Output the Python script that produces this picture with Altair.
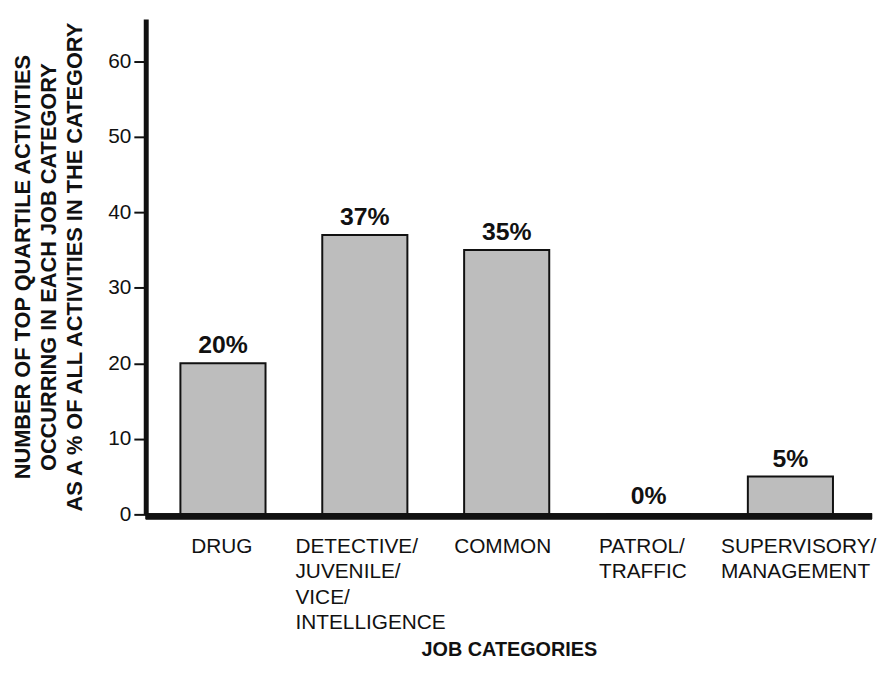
import altair as alt
import pandas as pd

# ---- data ----
cat_keys = ["Drug", "Detective", "Common", "Patrol", "Supervisory"]
cat_lines = [
    ["DRUG"],
    ["DETECTIVE/", "JUVENILE/", "VICE/", "INTELLIGENCE"],
    ["COMMON"],
    ["PATROL/", "TRAFFIC"],
    ["SUPERVISORY/", "MANAGEMENT"],
]
values = [20, 37, 35, 0, 5]
value_labels = ["20%", "37%", "35%", "0%", "5%"]
y_ticks = [0, 10, 20, 30, 40, 50, 60]
y_title = [
    "NUMBER OF TOP QUARTILE ACTIVITIES",
    "OCCURRING IN EACH JOB CATEGORY",
    "AS A % OF ALL ACTIVITIES IN THE CATEGORY",
]
x_title = "JOB CATEGORIES"

df = pd.DataFrame({
    "cat": cat_keys,
    "value": values,
    "vlabel": value_labels,
    "clabel": ["\n".join(l) for l in cat_lines],
})

FONT = "Liberation Sans, Arial, Helvetica, sans-serif"
INK = "#111111"

# horizontal nudges for the left-aligned category label blocks (styling)
label_dx = {"Drug": -32, "Detective": -70, "Common": -53, "Patrol": -50, "Supervisory": -70}

xscale = alt.Scale(domain=cat_keys, paddingInner=0.4, paddingOuter=0.26, align=0.47)
yscale = alt.Scale(domain=[0, 65.6], nice=False, zero=True)

xaxis = alt.Axis(labels=False, ticks=False, domain=False, grid=False,
                 title=x_title, titleFont=FONT, titleFontSize=20,
                 titleFontWeight="bold", titleColor=INK, titlePadding=126)
yaxis = alt.Axis(values=y_ticks, grid=False, tickSize=12, tickWidth=2,
                 tickColor=INK, domainWidth=5, domainColor=INK,
                 labelFont=FONT, labelFontSize=21, labelColor=INK,
                 labelPadding=3, title=y_title, titleFont=FONT,
                 titleFontSize=22, titleFontWeight="bold", titleColor=INK,
                 titleLineHeight=26.5, titlePadding=21)

X = alt.X("cat:N", sort=cat_keys, scale=xscale, axis=xaxis)
Y = alt.Y("value:Q", scale=yscale, axis=yaxis)

bars = alt.Chart(df).mark_bar(
    fill="#bdbdbd", stroke=INK, strokeWidth=2
).encode(x=X, y=Y)

vtext = alt.Chart(df).mark_text(
    font=FONT, fontSize=25, fontWeight="bold", color=INK,
    baseline="alphabetic", align="center", dy=-10
).encode(x=X, y=Y, text="vlabel:N")

baseline_rule = alt.Chart(df).mark_rule(color=INK, strokeWidth=6).encode(
    x=alt.value(0), x2=alt.value(733), y=alt.value(502)
)

label_layers = []
for k in cat_keys:
    label_layers.append(
        alt.Chart(df).transform_filter(alt.datum.cat == k).mark_text(
            font=FONT, fontSize=21, color=INK, align="left",
            baseline="alphabetic", lineBreak="\n", lineHeight=25.7, dx=label_dx[k]
        ).encode(
            x=X,
            y=alt.value(539),
            text="clabel:N",
        )
    )

chart = alt.layer(bars, baseline_rule, vtext, *label_layers).properties(
    width=733, height=500,
    autosize=alt.AutoSizeParams(type="none"),
    padding={"left": 139, "top": 8, "right": 7, "bottom": 150},
    background="white",
).configure_view(stroke=None)

chart.save("out.html", embed_options={"renderer": "svg", "actions": False})
